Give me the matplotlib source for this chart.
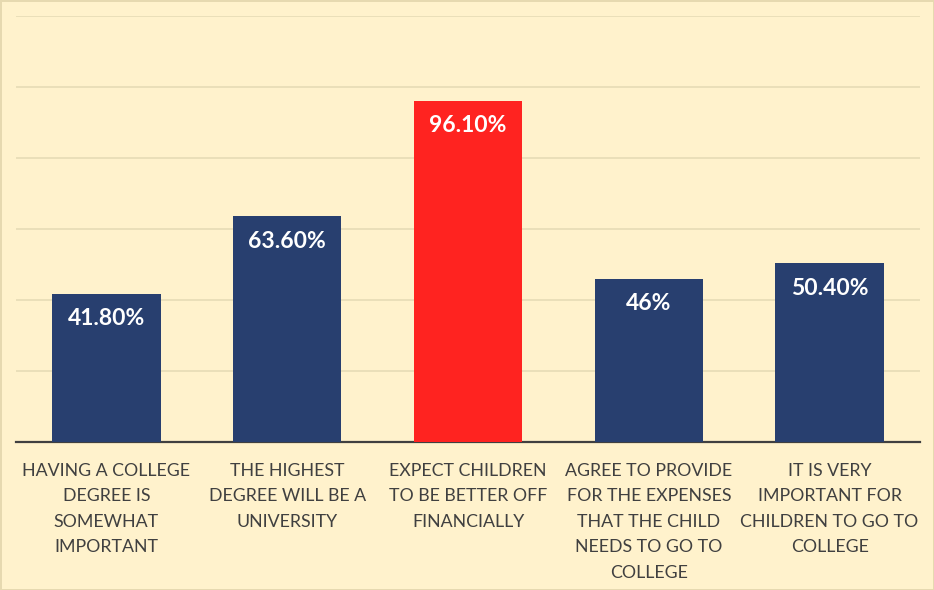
import matplotlib.pyplot as plt

categories = [
    "HAVING A COLLEGE\nDEGREE IS\nSOMEWHAT\nIMPORTANT",
    "THE HIGHEST\nDEGREE WILL BE A\nUNIVERSITY",
    "EXPECT CHILDREN\nTO BE BETTER OFF\nFINANCIALLY",
    "AGREE TO PROVIDE\nFOR THE EXPENSES\nTHAT THE CHILD\nNEEDS TO GO TO\nCOLLEGE",
    "IT IS VERY\nIMPORTANT FOR\nCHILDREN TO GO TO\nCOLLEGE",
]
values = [41.8, 63.6, 96.1, 46.0, 50.4]
value_labels = ["41.80%", "63.60%", "96.10%", "46%", "50.40%"]
bar_colors = ["#283F6F", "#283F6F", "#FF2320", "#283F6F", "#283F6F"]

bg = "#FFF2CC"
plt.rcParams['font.family'] = ['Lato', 'DejaVu Sans']

fig = plt.figure(figsize=(9.34, 5.90), dpi=100, facecolor=bg)
fig.patch.set_edgecolor("#E6D9B0")
fig.patch.set_linewidth(2)
ax = fig.add_axes([16 / 934, 148 / 590, 904 / 934, 426 / 590])
ax.set_facecolor(bg)

x = range(len(values))
bars = ax.bar(x, values, width=0.6, color=bar_colors, zorder=3)

# value labels sit just inside the top of each bar
for b, lab in zip(bars, value_labels):
    ax.annotate(lab, (b.get_x() + b.get_width() / 2, b.get_height()),
                xytext=(0, -25), textcoords="offset pixels",
                ha="center", va="center", color="white", fontsize=16.5,
                fontweight="bold", zorder=4)

ax.set_ylim(0, 120)
ax.set_xlim(-0.5, len(values) - 0.5)
ax.set_yticks([20, 40, 60, 80, 100, 120])
ax.yaxis.grid(True, color="#E8DDB8", linewidth=1.3, zorder=0)
ax.tick_params(axis="y", left=False, labelleft=False)
ax.set_xticks(list(x))
ax.set_xticklabels(categories, fontsize=12.8, color="#404040", linespacing=1.73,
                   va="top")
ax.tick_params(axis="x", length=0, pad=15)

for s in ["top", "right", "left"]:
    ax.spines[s].set_visible(False)
ax.spines["bottom"].set_color("#404040")
ax.spines["bottom"].set_linewidth(1.6)

fig.savefig("out.png", dpi=100, facecolor=bg, edgecolor=fig.patch.get_edgecolor())
